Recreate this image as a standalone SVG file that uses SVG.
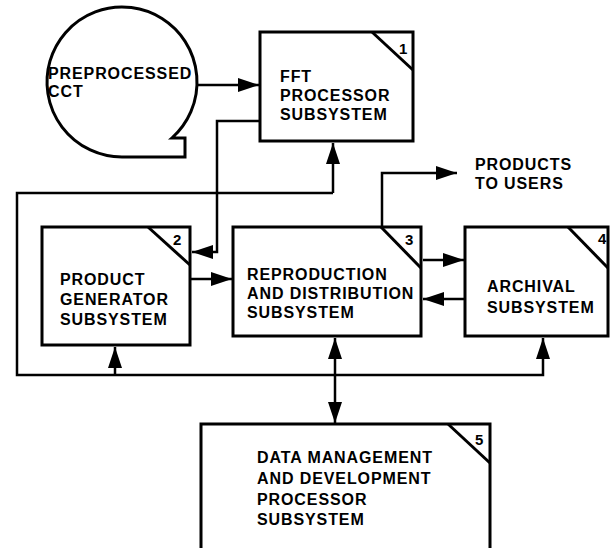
<svg xmlns="http://www.w3.org/2000/svg" width="610" height="548" viewBox="0 0 610 548">
<style>
.box{fill:#fff;stroke:#000;stroke-width:3}
.diag{stroke:#000;stroke-width:3;fill:none}
.t{font-family:"Liberation Sans",Arial,sans-serif;font-size:16px;font-weight:bold;letter-spacing:0.9px;fill:#000}
.n{font-family:"Liberation Sans",Arial,sans-serif;font-size:15px;font-weight:bold;fill:#000}
.c{fill:none;stroke:#000;stroke-width:2.5}
</style>
<defs>
<marker id="ah" markerUnits="userSpaceOnUse" markerWidth="22" markerHeight="14" refX="21" refY="7" orient="auto-start-reverse">
<path d="M0,0 L21,7 L0,14 Z" fill="#000"/>
</marker>
</defs>
<rect width="610" height="548" fill="#fff"/>
<g id="connectors">
<path class="c" d="M197,85 L259,85" marker-end="url(#ah)"/>
<path class="c" d="M260,121 L217,121 L217,252 L192,252" marker-end="url(#ah)"/>
<path class="c" d="M333,193 L17,193 L17,375 L543,375 L543,338" marker-end="url(#ah)"/>
<path class="c" d="M333,193 L333,143" marker-end="url(#ah)"/>
<path class="c" d="M115,375 L115,347" marker-end="url(#ah)"/>
<path class="c" d="M190,279 L232,279" marker-end="url(#ah)"/>
<path class="c" d="M423,260 L464,260" marker-end="url(#ah)"/>
<path class="c" d="M465,299 L423,299" marker-end="url(#ah)"/>
<path class="c" d="M382,227 L382,173 L457,173" marker-end="url(#ah)"/>
<path class="c" d="M335,338 L335,423" marker-start="url(#ah)" marker-end="url(#ah)"/>
</g>
<g id="cct">
<path class="box" d="M122,157 A75,75 0 1 1 171.9,138 L185,138 L185,157 Z"/>
<text class="t" x="48" y="79">PREPROCESSED</text>
<text class="t" x="48" y="97">CCT</text>
</g>
<g id="fft">
<rect class="box" x="260" y="32" width="153" height="109"/>
<path class="diag" d="M372,32 L413,70"/>
<text class="n" x="399" y="54">1</text>
<text class="t" x="280" y="82">FFT</text>
<text class="t" x="280" y="101">PROCESSOR</text>
<text class="t" x="280" y="120">SUBSYSTEM</text>
</g>
<g id="pg">
<rect class="box" x="42" y="227" width="148" height="118"/>
<path class="diag" d="M148,227 L190,265"/>
<text class="n" x="173" y="245">2</text>
<text class="t" x="60" y="285">PRODUCT</text>
<text class="t" x="60" y="305">GENERATOR</text>
<text class="t" x="60" y="325">SUBSYSTEM</text>
</g>
<g id="rd">
<rect class="box" x="233" y="227" width="188" height="109"/>
<path class="diag" d="M381,227 L421,268"/>
<text class="n" x="405" y="245">3</text>
<text class="t" x="247" y="280">REPRODUCTION</text>
<text class="t" x="247" y="299">AND DISTRIBUTION</text>
<text class="t" x="247" y="318">SUBSYSTEM</text>
</g>
<g id="ar">
<rect class="box" x="465" y="227" width="143" height="109"/>
<path class="diag" d="M568,227 L608,268"/>
<text class="n" x="598" y="244">4</text>
<text class="t" x="487" y="292">ARCHIVAL</text>
<text class="t" x="487" y="313">SUBSYSTEM</text>
</g>
<g id="users">
<text class="t" x="475" y="170">PRODUCTS</text>
<text class="t" x="475" y="189">TO USERS</text>
</g>
<g id="dm">
<path class="box" d="M201,552 L201,424 L490,424 L490,552"/>
<path class="diag" d="M448,424 L490,463"/>
<text class="n" x="475" y="445">5</text>
<text class="t" x="257" y="463">DATA MANAGEMENT</text>
<text class="t" x="257" y="484">AND DEVELOPMENT</text>
<text class="t" x="257" y="505">PROCESSOR</text>
<text class="t" x="257" y="525">SUBSYSTEM</text>
</g>
</svg>
